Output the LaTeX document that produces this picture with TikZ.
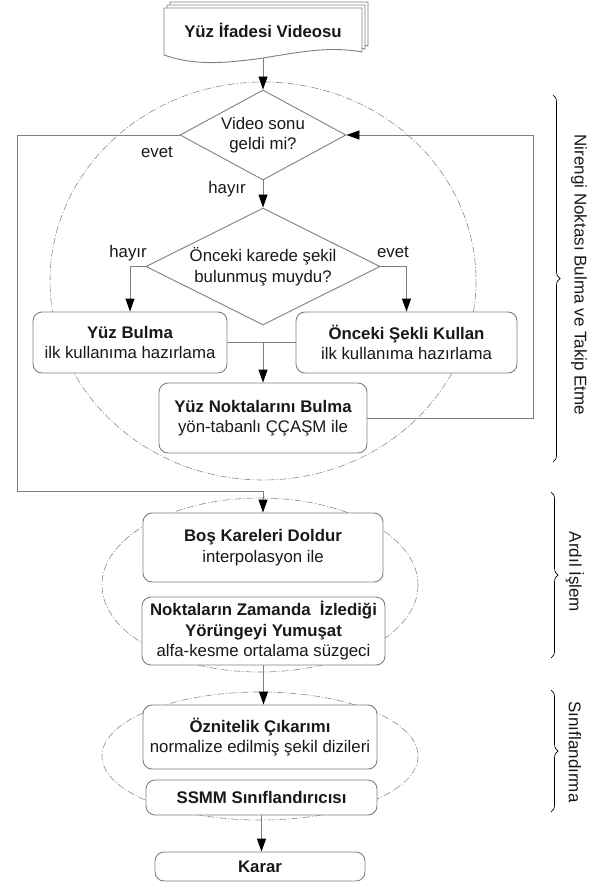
\documentclass[tikz,border=0pt]{standalone}
\usepackage{fontspec}
\setmainfont{Liberation Sans}
\usetikzlibrary{arrows.meta,shapes.geometric,decorations.pathreplacing}
\definecolor{lg}{RGB}{128,128,128}
\definecolor{eg}{RGB}{140,140,140}
\definecolor{tx}{RGB}{25,25,25}
\newcommand{\fsz}{\fontsize{16.8}{20.5}\selectfont}
\begin{document}
\begin{tikzpicture}[x=1pt,y=-1pt,
  box/.style={draw=lg, line width=0.9pt, rounded corners=9pt, fill=white, align=center, inner sep=0pt, font=\fsz, text=tx},
  dec/.style={diamond, draw=lg, line width=0.9pt, fill=white, align=center, inner sep=0pt, font=\fsz, text=tx},
  lbl/.style={font=\fsz, text=tx, inner sep=0pt},
  conn/.style={draw=lg, line width=0.9pt},
  arr/.style={conn, -{Triangle[length=13pt,width=9pt,color=black]}},
  grp/.style={draw=eg, line width=0.6pt, dash pattern=on 7pt off 2pt on 1pt off 2pt},
  brc/.style={draw=black, line width=0.7pt, decorate, decoration={brace, amplitude=7pt}},
  sidetxt/.style={font=\fontsize{17}{20}\selectfont, text=tx, rotate=-90, inner sep=0pt}
]
\useasboundingbox (0,0) rectangle (593,882);
\fill[white] (0,0) rectangle (593,882);

% group ellipses
\draw[grp] (263,281) ellipse [x radius=213, y radius=199];
\draw[grp] (260,585) ellipse [x radius=158, y radius=87];
\draw[grp] (260,756) ellipse [x radius=158, y radius=64];

% document shape (stacked pages)
\foreach \s in {6,3,0}{
  \filldraw[draw=lg, fill=white, line width=0.9pt, shift={(\s,-\s)}]
    (164,8) -- (362,8) -- (362,52) .. controls (330,46) and (300,52) .. (263,58)
    .. controls (215,65) and (190,64) .. (164,55) -- cycle;
}
\node[lbl, font=\bfseries\fsz, minimum width=198pt, minimum height=44pt] (doc) at (263,30) {Yüz İfadesi Videosu};

% decisions
\node[dec, aspect=1.84, minimum width=166pt, minimum height=90pt] (d1) at (263,135) {Video sonu\\geldi mi?};
\node[dec, aspect=2, minimum width=234pt, minimum height=117pt] (d2) at (263,266.5) {Önceki karede şekil\\bulunmuş muydu?};

% process boxes
\node[box, minimum width=194pt, minimum height=61pt] (yb) at (130,342.5) {\textbf{Yüz Bulma}\\ilk kullanıma hazırlama};
\node[box, minimum width=221pt, minimum height=61pt] (os) at (406.5,342.5) {\textbf{Önceki Şekli Kullan}\\ilk kullanıma hazırlama};
\node[box, minimum width=208pt, minimum height=70pt] (yn) at (263,418) {\textbf{Yüz Noktalarını Bulma}\\yön-tabanlı ÇÇAŞM ile};
\node[box, minimum width=240pt, minimum height=69pt] (bk) at (263,547.5) {\textbf{Boş Kareleri Doldur}\\interpolasyon ile};
\node[box, minimum width=243pt, minimum height=68pt] (nz) at (263.5,631) {\textbf{Noktaların Zamanda\ \ İzlediği}\\\textbf{Yörüngeyi Yumuşat}\\alfa-kesme ortalama süzgeci};
\node[box, minimum width=234pt, minimum height=64pt] (oc) at (260,737) {\textbf{Öznitelik Çıkarımı}\\normalize edilmiş şekil dizileri};
\node[box, minimum width=231pt, minimum height=35pt] (ss) at (261.5,797.5) {\textbf{SSMM Sınıflandırıcısı}};
\node[box, minimum width=210pt, minimum height=29pt] (kr) at (260,866.5) {\textbf{Karar}};

% labels
\node[lbl] (l1) at (157,152) {evet};
\node[lbl] (l2) at (227,189) {hayır};
\node[lbl] (l3) at (128,253) {hayır};
\node[lbl] (l4) at (393,252) {evet};

% connectors
\draw[arr] ([yshift=-6pt]doc.south) -- (d1.north);
\draw[arr] (d1.south) -- (d2.north);
\draw[arr] (d2.west) -| (yb.north);
\draw[arr] (d2.east) -| (os.north);
\draw[conn] (yb.east) -- (os.west);
\draw[arr] (yb.east -| yn.north) -- (yn.north);
\coordinate (rr) at (533,135);
\draw[arr] (yn.east) -| (rr) -- (d1.east);
\coordinate (ll) at (17,491);
\draw[arr] (d1.west) -| (ll) -| (bk.north);
\draw[arr] (nz.south) -- (nz.south |- oc.north);
\draw[arr] (ss.south) -- (ss.south |- kr.north);

% braces and phase labels
\draw[brc] (553,95) -- (553,462);
\node[sidetxt] (t1) at (579,275) {Nirengi Noktası Bulma ve Takip Etme};
\draw[brc] (551,492) -- (551,658);
\node[sidetxt] (t2) at (575,572) {Ardıl İşlem};
\draw[brc] (551,690) -- (551,812);
\node[sidetxt] (t3) at (575,752) {Sınıflandırma};
\end{tikzpicture}
\end{document}
